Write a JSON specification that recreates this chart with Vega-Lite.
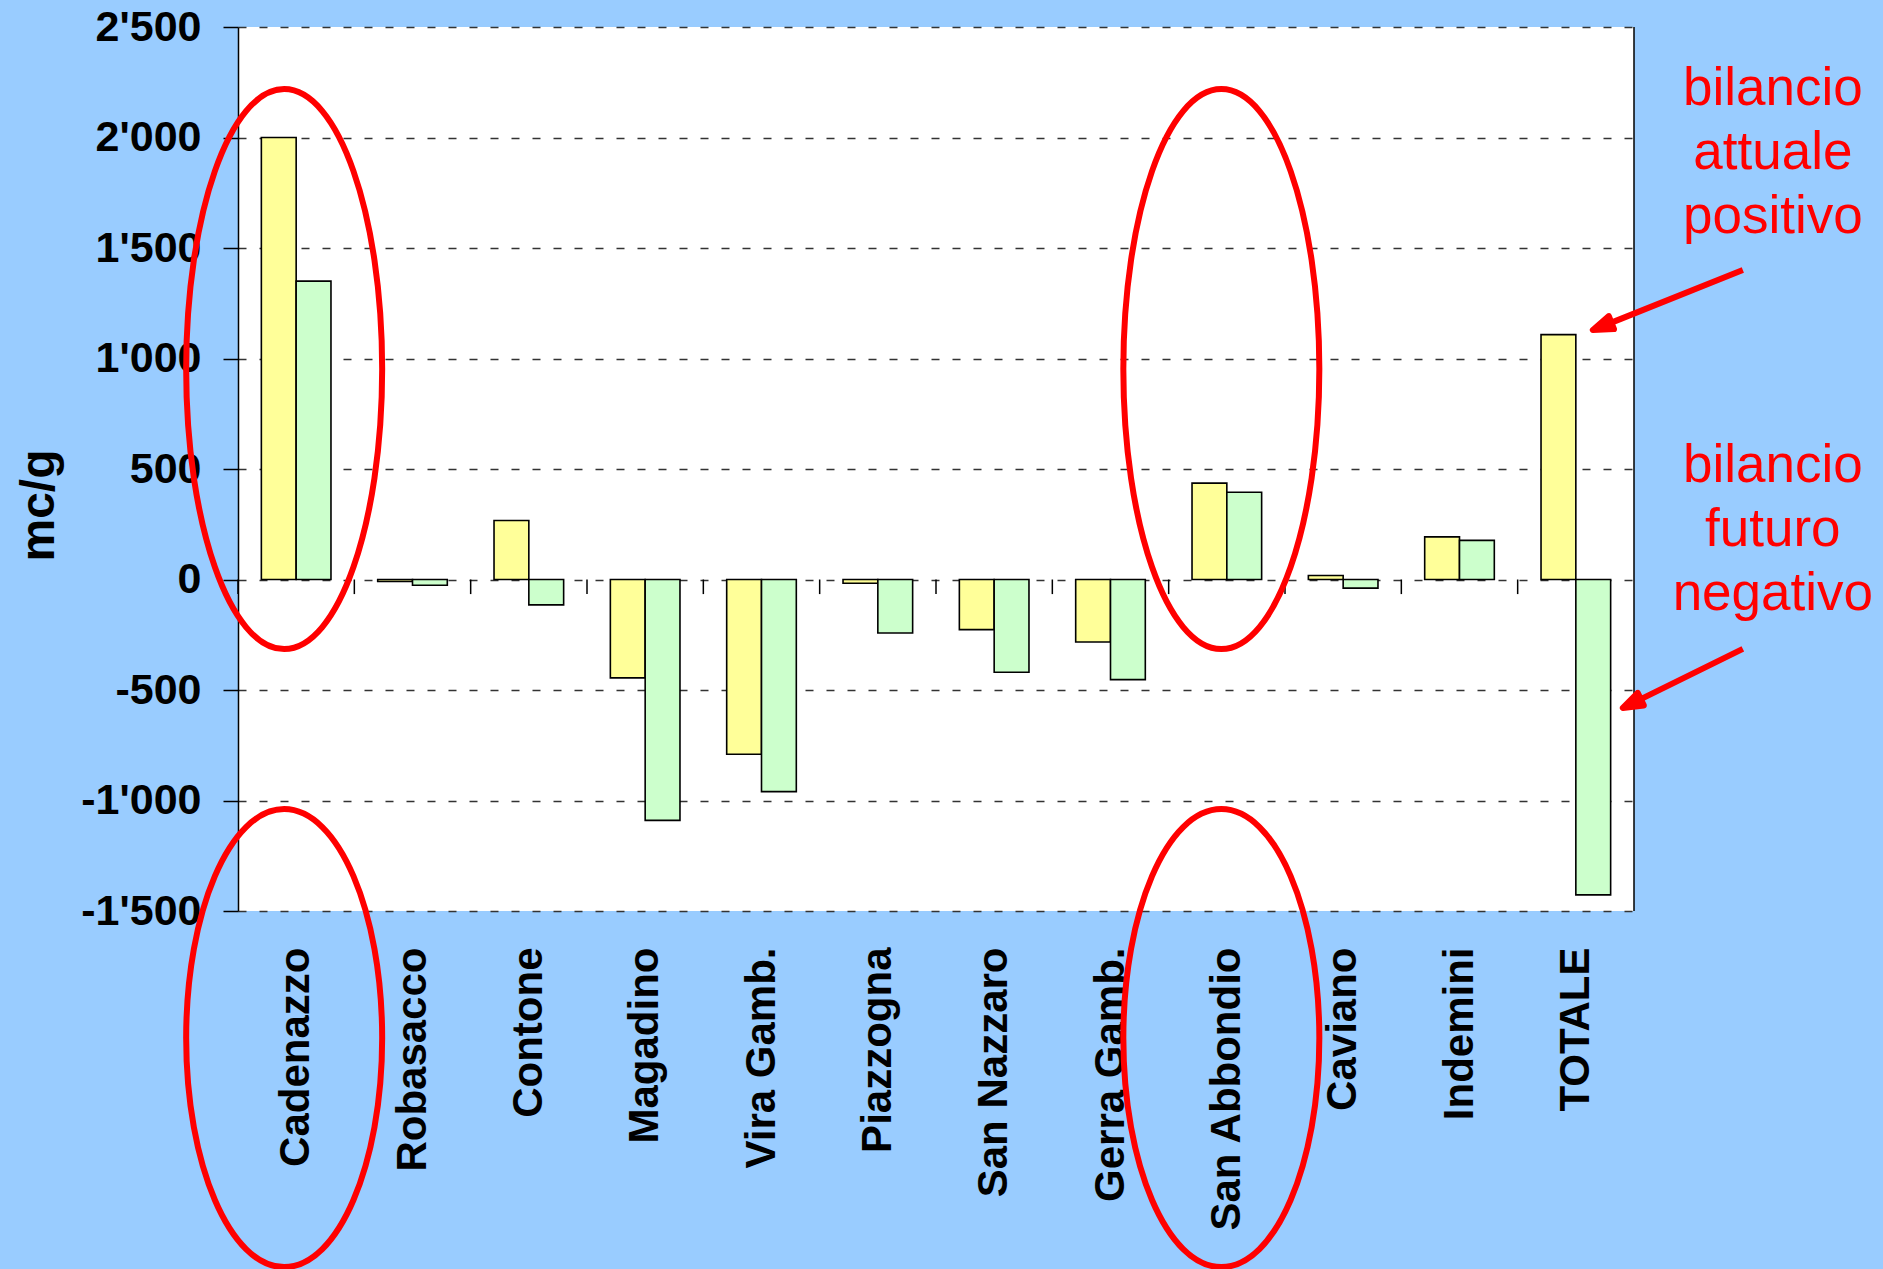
{
  "$schema": "https://vega.github.io/schema/vega-lite/v6.json",
  "width": 1396,
  "height": 884,
  "autosize": {"type": "none"},
  "padding": {"left": 238, "top": 27, "right": 249, "bottom": 358},
  "background": "#99CCFF",
  "config": {"view": {"fill": "#FFFFFF", "stroke": null}, "font": "Liberation Sans"},
  "datasets": {
    "bilancio": [
      {"comune": "Cadenazzo", "bilancio": "attuale", "valore": 2000},
      {"comune": "Robasacco", "bilancio": "attuale", "valore": -9},
      {"comune": "Contone", "bilancio": "attuale", "valore": 267},
      {"comune": "Magadino", "bilancio": "attuale", "valore": -445},
      {"comune": "Vira Gamb.", "bilancio": "attuale", "valore": -791},
      {"comune": "Piazzogna", "bilancio": "attuale", "valore": -17},
      {"comune": "San Nazzaro", "bilancio": "attuale", "valore": -227},
      {"comune": "Gerra Gamb.", "bilancio": "attuale", "valore": -283},
      {"comune": "San Abbondio", "bilancio": "attuale", "valore": 436},
      {"comune": "Caviano", "bilancio": "attuale", "valore": 18},
      {"comune": "Indemini", "bilancio": "attuale", "valore": 193},
      {"comune": "TOTALE", "bilancio": "attuale", "valore": 1108},
      {"comune": "Cadenazzo", "bilancio": "futuro", "valore": 1350},
      {"comune": "Robasacco", "bilancio": "futuro", "valore": -26},
      {"comune": "Contone", "bilancio": "futuro", "valore": -115},
      {"comune": "Magadino", "bilancio": "futuro", "valore": -1090},
      {"comune": "Vira Gamb.", "bilancio": "futuro", "valore": -960},
      {"comune": "Piazzogna", "bilancio": "futuro", "valore": -242},
      {"comune": "San Nazzaro", "bilancio": "futuro", "valore": -420},
      {"comune": "Gerra Gamb.", "bilancio": "futuro", "valore": -453},
      {"comune": "San Abbondio", "bilancio": "futuro", "valore": 395},
      {"comune": "Caviano", "bilancio": "futuro", "valore": -39},
      {"comune": "Indemini", "bilancio": "futuro", "valore": 177},
      {"comune": "TOTALE", "bilancio": "futuro", "valore": -1427}
    ]
  },
  "layer": [
    {
      "data": {"name": "bilancio"},
      "mark": {"type": "bar", "stroke": "#000000", "strokeWidth": 1.6},
      "encoding": {
        "x": {
          "field": "comune",
          "type": "nominal",
          "scale": {
            "domain": ["Cadenazzo", "Robasacco", "Contone", "Magadino", "Vira Gamb.", "Piazzogna", "San Nazzaro", "Gerra Gamb.", "San Abbondio", "Caviano", "Indemini", "TOTALE"],
            "paddingInner": 0,
            "paddingOuter": 0
          },
          "axis": {
            "title": null,
            "labelAngle": 270,
            "labelAlign": "right",
            "labelBaseline": "middle",
            "labelFont": "Liberation Sans",
            "labelFontSize": 42,
            "labelFontWeight": "bold",
            "labelColor": "#000000",
            "labelPadding": 36,
            "labelLimit": 500,
            "labelOverlap": false,
            "ticks": false,
            "tickSize": 0,
            "domain": false,
            "grid": false
          }
        },
        "y": {
          "field": "valore",
          "type": "quantitative",
          "scale": {"domain": [-1500, 2500], "nice": false},
          "axis": {
            "title": "mc/g",
            "values": [-1500, -1000, -500, 0, 500, 1000, 1500, 2000, 2500],
            "labelExpr": "(datum.value < 0 ? '-' : '') + replace(format(abs(datum.value), ','), ',', \"'\")",
            "labelFont": "Liberation Sans",
            "labelFontSize": 43,
            "labelFontWeight": "bold",
            "labelColor": "#000000",
            "labelPadding": 22,
            "domainColor": "#000000",
            "domainWidth": 1.5,
            "tickColor": "#000000",
            "tickSize": 15,
            "tickWidth": 1.5,
            "grid": true,
            "gridColor": "#333333",
            "gridDash": [8, 13],
            "gridWidth": 1.3,
            "titleFont": "Liberation Sans",
            "titleFontSize": 48,
            "titleFontWeight": "bold",
            "titleColor": "#000000",
            "titleAngle": 270,
            "titleAlign": "center",
            "titleBaseline": "alphabetic",
            "titleX": -185,
            "titleY": 478
          }
        },
        "xOffset": {
          "field": "bilancio",
          "type": "nominal",
          "scale": {"domain": ["attuale", "futuro"], "paddingInner": 0, "paddingOuter": 0.671}
        },
        "color": {
          "field": "bilancio",
          "type": "nominal",
          "scale": {"domain": ["attuale", "futuro"], "range": ["#FFFF99", "#CCFFCC"]},
          "legend": null
        }
      }
    },
    {
      "mark": {"type": "rule", "color": "#000000", "strokeWidth": 1.5},
      "encoding": {"y": {"datum": 0}}
    },
    {
      "data": {"name": "bilancio"},
      "transform": [{"filter": "datum.bilancio == 'attuale'"}],
      "mark": {"type": "rule", "color": "#000000", "strokeWidth": 1.5},
      "encoding": {
        "x": {"field": "comune", "type": "nominal", "bandPosition": 0},
        "y": {"datum": 0},
        "y2": {"datum": -66}
      }
    },
    {
      "data": {"name": "bilancio"},
      "transform": [{"filter": "datum.bilancio == 'attuale' && datum.comune == 'TOTALE'"}],
      "mark": {"type": "rule", "color": "#000000", "strokeWidth": 1.5, "clip": false},
      "encoding": {
        "x": {"field": "comune", "type": "nominal", "bandPosition": 1},
        "y": {"datum": 2500},
        "y2": {"datum": -1500}
      }
    },
    {
      "data": {"values": [{"comune": "Cadenazzo", "valore": 952}]},
      "mark": {"type": "point", "shape": "M-12,-280A98,280 0 1,1 -12,280A98,280 0 1,1 -12,-280Z", "size": 4, "filled": false, "stroke": "#FF0000", "strokeWidth": 6, "opacity": 1, "strokeOpacity": 1, "clip": false},
      "encoding": {"x": {"field": "comune", "type": "nominal"}, "y": {"field": "valore", "type": "quantitative"}}
    },
    {
      "data": {"values": [{"comune": "Cadenazzo", "valore": -2075}]},
      "mark": {"type": "point", "shape": "M-12,-229A98,229 0 1,1 -12,229A98,229 0 1,1 -12,-229Z", "size": 4, "filled": false, "stroke": "#FF0000", "strokeWidth": 6, "opacity": 1, "strokeOpacity": 1, "clip": false},
      "encoding": {"x": {"field": "comune", "type": "nominal"}, "y": {"field": "valore", "type": "quantitative"}}
    },
    {
      "data": {"values": [{"comune": "San Abbondio", "valore": 952}]},
      "mark": {"type": "point", "shape": "M-5.5,-280A98,280 0 1,1 -5.5,280A98,280 0 1,1 -5.5,-280Z", "size": 4, "filled": false, "stroke": "#FF0000", "strokeWidth": 6, "opacity": 1, "strokeOpacity": 1, "clip": false},
      "encoding": {"x": {"field": "comune", "type": "nominal"}, "y": {"field": "valore", "type": "quantitative"}}
    },
    {
      "data": {"values": [{"comune": "San Abbondio", "valore": -2075}]},
      "mark": {"type": "point", "shape": "M-5.5,-229A98,229 0 1,1 -5.5,229A98,229 0 1,1 -5.5,-229Z", "size": 4, "filled": false, "stroke": "#FF0000", "strokeWidth": 6, "opacity": 1, "strokeOpacity": 1, "clip": false},
      "encoding": {"x": {"field": "comune", "type": "nominal"}, "y": {"field": "valore", "type": "quantitative"}}
    },
    {
      "data": {"values": [{"comune": "TOTALE", "valore": 1129}]},
      "mark": {"type": "point", "shape": "M17,0L38.2,-0.9L33,-13.9Z M35.6,-7.4L167,-60", "size": 4, "filled": true, "fill": "#FF0000", "stroke": "#FF0000", "strokeWidth": 6, "strokeJoin": "round", "opacity": 1, "fillOpacity": 1, "strokeOpacity": 1, "clip": false},
      "encoding": {"x": {"field": "comune", "type": "nominal"}, "y": {"field": "valore", "type": "quantitative"}}
    },
    {
      "data": {"values": [{"comune": "TOTALE", "valore": -581}]},
      "mark": {"type": "point", "shape": "M47,0L68,-2.5L61.9,-15.1Z M65,-8.8L167,-59", "size": 4, "filled": true, "fill": "#FF0000", "stroke": "#FF0000", "strokeWidth": 6, "strokeJoin": "round", "opacity": 1, "fillOpacity": 1, "strokeOpacity": 1, "clip": false},
      "encoding": {"x": {"field": "comune", "type": "nominal"}, "y": {"field": "valore", "type": "quantitative"}}
    },
    {
      "data": {"values": [
        {"comune": "TOTALE", "valore": 2219, "testo": "bilancio\nattuale\npositivo"},
        {"comune": "TOTALE", "valore": 514, "testo": "bilancio\nfuturo\nnegativo"}
      ]},
      "mark": {"type": "text", "dx": 197, "align": "center", "baseline": "middle", "font": "Liberation Sans", "fontSize": 53, "color": "#FF0000", "lineBreak": "\n", "lineHeight": 64, "clip": false},
      "encoding": {
        "x": {"field": "comune", "type": "nominal"},
        "y": {"field": "valore", "type": "quantitative"},
        "text": {"field": "testo", "type": "nominal"}
      }
    }
  ]
}
